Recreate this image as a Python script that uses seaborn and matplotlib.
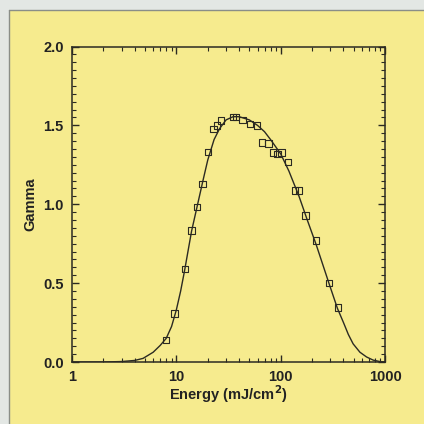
import numpy as np
import pandas as pd
import matplotlib
matplotlib.use("Agg")
import matplotlib.pyplot as plt
from matplotlib.patches import Rectangle
from matplotlib.ticker import LogLocator, MultipleLocator, FixedLocator, NullFormatter
import seaborn as sns

# measured points
energy_pts = [7.95, 9.63, 12.1, 14.0, 15.8, 17.8, 20.1, 22.7, 24.5, 26.7, 34.8, 37.2,
              43.0, 50.7, 59.2, 66.1, 76.2, 84.7, 92.9, 101.5, 117.2, 136.8, 149.4,
              172.2, 218.1, 291.1, 353.0]
gamma_pts = [0.141, 0.306, 0.591, 0.832, 0.984, 1.129, 1.330, 1.476, 1.500, 1.530, 1.554, 1.554,
             1.535, 1.509, 1.500, 1.392, 1.385, 1.328, 1.319, 1.329, 1.269, 1.087, 1.087,
             0.929, 0.770, 0.501, 0.345]

# fitted curve
energy_fit = [1.0, 2.0, 3.0, 4.0, 4.8, 6.0, 7.0, 8.0, 9.0, 10, 11, 12, 13, 14, 16, 18, 20, 23,
              26, 30, 35, 40, 50, 60, 70, 80, 100, 120, 150, 180, 220, 290, 350, 400, 445, 495,
              575, 665, 770, 890, 1000]
gamma_fit = [0.0, 0.0, 0.003, 0.01, 0.023, 0.062, 0.105, 0.15, 0.225, 0.33, 0.45, 0.58, 0.71,
             0.83, 1.00, 1.15, 1.28, 1.41, 1.48, 1.535, 1.555, 1.555, 1.535, 1.50, 1.46, 1.41,
             1.32, 1.21, 1.05, 0.90, 0.74, 0.50, 0.34, 0.25, 0.175, 0.115, 0.062, 0.032, 0.012,
             0.003, 0.0]

x_ticks = [1, 10, 100, 1000]
x_ticklabels = ["1", "10", "100", "1000"]
y_ticks = [0.0, 0.5, 1.0, 1.5, 2.0]
y_ticklabels = ["0.0", "0.5", "1.0", "1.5", "2.0"]

sns.set_style("ticks")
plt.rcParams['font.family'] = ['Liberation Sans', 'DejaVu Sans']

YELLOW = "#f6eb8e"
INK = "#2b2a22"

fig = plt.figure(figsize=(4.24, 4.24), dpi=100)
fig.patch.set_facecolor(YELLOW)
# light scanned border on top and left
fig.patches.append(Rectangle((0, 0), 9 / 424, 1, transform=fig.transFigure,
                             facecolor="#e3e7e4", edgecolor="none", zorder=0))
fig.patches.append(Rectangle((0, 1 - 10 / 424), 1, 10 / 424, transform=fig.transFigure,
                             facecolor="#e3e7e4", edgecolor="none", zorder=0))
fig.lines.append(plt.Line2D([9 / 424, 9 / 424], [0, 1 - 10 / 424], transform=fig.transFigure,
                            color="#8a8e88", lw=1.0))
fig.lines.append(plt.Line2D([9 / 424, 1], [1 - 10 / 424, 1 - 10 / 424], transform=fig.transFigure,
                            color="#8a8e88", lw=1.0))

ax = fig.add_axes([72 / 424, 62 / 424, 313 / 424, 315.5 / 424])
ax.set_facecolor(YELLOW)

fit_df = pd.DataFrame({"Energy": energy_fit, "Gamma": gamma_fit})
pts_df = pd.DataFrame({"Energy": energy_pts, "Gamma": gamma_pts})

sns.lineplot(data=fit_df, x="Energy", y="Gamma", ax=ax, color=INK, lw=1.0, zorder=2)
sns.scatterplot(data=pts_df, x="Energy", y="Gamma", ax=ax, marker="s", s=22,
                facecolor="none", edgecolor=INK, linewidth=0.8, zorder=3)

ax.set_xscale("log")
ax.set_xlim(1, 1000)
ax.set_ylim(0, 2.0)

ax.xaxis.set_major_locator(FixedLocator(x_ticks))
ax.set_xticklabels(x_ticklabels)
ax.xaxis.set_minor_locator(LogLocator(base=10, subs=np.arange(2, 10)))
ax.xaxis.set_minor_formatter(NullFormatter())
ax.yaxis.set_major_locator(FixedLocator(y_ticks))
ax.set_yticklabels(y_ticklabels)
ax.yaxis.set_minor_locator(MultipleLocator(0.05))

ax.tick_params(which="both", direction="in", top=True, right=True, colors=INK,
               labelcolor="#222222")
ax.tick_params(which="major", length=5, width=1.0, labelsize=10.5, pad=6)
ax.tick_params(which="minor", length=3, width=0.8)
for lab in ax.get_xticklabels() + ax.get_yticklabels():
    lab.set_fontweight("bold")

for sp in ax.spines.values():
    sp.set_color(INK)
    sp.set_linewidth(1.1)

ax.set_xlabel("Energy (mJ/cm$^\\mathbf{2}$)", fontsize=10.5, fontweight="bold", color="#222222")
ax.set_ylabel("Gamma", fontsize=10.5, fontweight="bold", color="#222222")
ax.xaxis.set_label_coords(0.5, -0.066)
ax.yaxis.set_label_coords(-0.112, 0.5)

fig.savefig("out.png", dpi=100, facecolor=fig.get_facecolor())
